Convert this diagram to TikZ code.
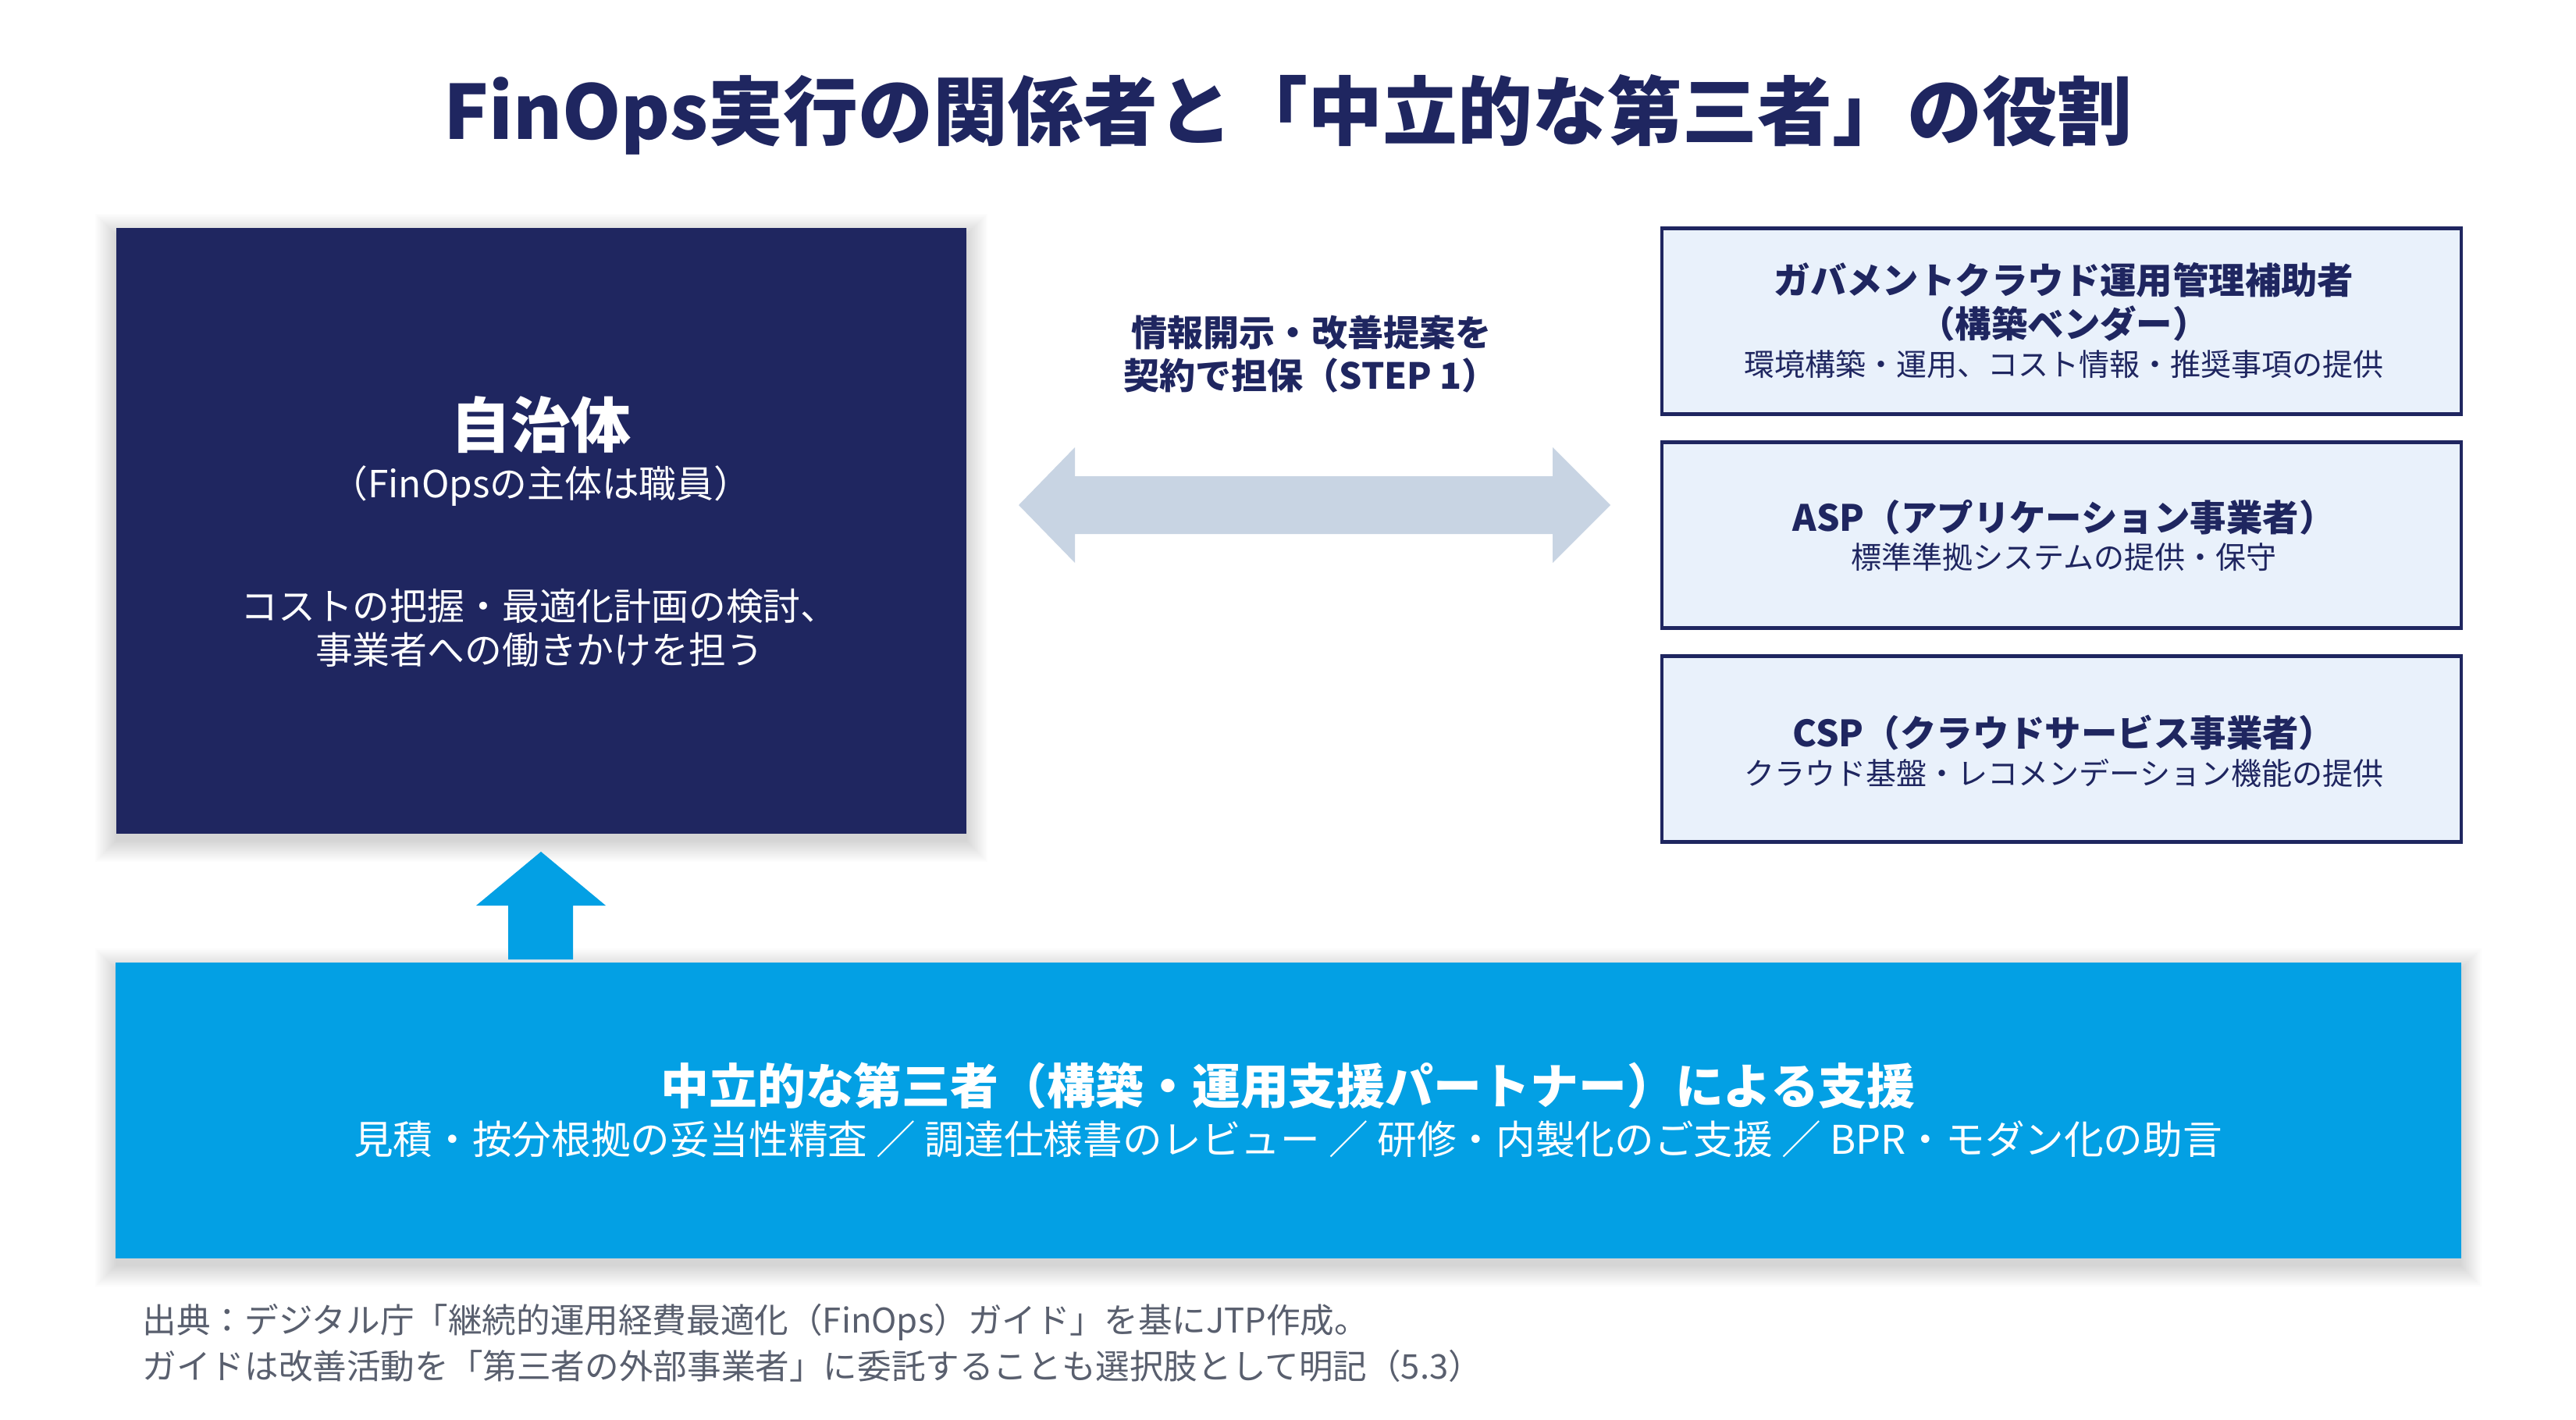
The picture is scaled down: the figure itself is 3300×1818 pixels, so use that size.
\documentclass[tikz,border=0pt]{standalone}
\usepackage{fontspec}
\setmainfont{Noto Sans CJK JP}
\definecolor{navy}{RGB}{31,38,96}
\definecolor{paleblue}{RGB}{233,241,251}
\definecolor{arrowgray}{RGB}{200,212,227}
\definecolor{brightblue}{RGB}{3,160,228}
\definecolor{notegray}{RGB}{89,95,110}
\newcommand\fsz[1]{\fontsize{#1pt}{#1pt}\selectfont}
% soft shadow: #1,#2 = top-left corner, #3,#4 = bottom-right corner (px units)
\newcommand\softshade[4]{%
  \foreach \e in {1,3,...,27}{%
    \fill[black, opacity=0.013] (#1-\e,#2-\e+9) rectangle (#3+\e,#4+\e+9);
  }%
}
\tikzset{
  lbl/.style={inner sep=0pt, anchor=center},
  govbox/.style={fill=navy, draw=none, inner sep=0pt, minimum width=10.89cm, minimum height=7.76cm},
  vendorbox/.style={fill=paleblue, draw=navy, line width=0.047cm, inner sep=0pt, minimum width=10.233cm, minimum height=2.383cm},
  supportbox/.style={fill=brightblue, draw=none, inner sep=0pt, minimum width=30.03cm, minimum height=3.79cm},
}
\begin{document}
\begin{tikzpicture}[x=0.01cm,y=-0.01cm]
\useasboundingbox[fill=white] (0,0) rectangle (3300,1818);

% title
\node[lbl, text=navy, font=\bfseries\fsz{27.3}] (title) at (1650,147) {FinOps実行の関係者と「中立的な第三者」の役割};

% shadows
\softshade{149}{292}{1238}{1068}
\softshade{149}{1233}{3152}{1612}

% left box
\node[govbox] (gov) at (693.5,680) {};
\node[lbl, text=white, font=\bfseries\fsz{21.9}] (govname) at (693,544) {自治体};
\node[lbl, text=white, font=\fsz{13.6}] (govsub) at (693,622) {（FinOpsの主体は職員）};
\node[lbl, text=white, font=\fsz{13.6}] (govd1) at (691,776) {コストの把握・最適化計画の検討、};
\node[lbl, text=white, font=\fsz{13.6}] (govd2) at (691,832) {事業者への働きかけを担う};

% middle label
\node[lbl, text=navy, font=\bfseries\fsz{13.1}] (mid1) at (1680,426) {情報開示・改善提案を};
\node[lbl, text=navy, font=\bfseries\fsz{13.1}] (mid2) at (1679,481) {契約で担保（STEP 1）};

% double arrow
\coordinate (dal) at (1305,647);
\coordinate (dar) at (2063,647);
\fill[arrowgray] (dal) -- (1377,573) -- (1377,610) -- (1989,610) -- (1989,573) -- (dar)
  -- (1989,721) -- (1989,684) -- (1377,684) -- (1377,721) -- cycle;

% right boxes
\node[vendorbox] (gcas) at (2641,411.5) {};
\node[lbl, text=navy, font=\bfseries\fsz{13.2}] (gcas1) at (2644,359) {ガバメントクラウド運用管理補助者};
\node[lbl, text=navy, font=\bfseries\fsz{13.2}] (gcas2) at (2644,415) {（構築ベンダー）};
\node[lbl, text=navy, font=\fsz{11.1}] (gcas3) at (2644,467) {環境構築・運用、コスト情報・推奨事項の提供};

\node[vendorbox] (asp) at (2641,685.5) {};
\node[lbl, text=navy, font=\bfseries\fsz{13.2}] (asp1) at (2644,663) {ASP（アプリケーション事業者）};
\node[lbl, text=navy, font=\fsz{11.1}] (asp2) at (2644,714) {標準準拠システムの提供・保守};

\node[vendorbox] (csp) at (2641,959.5) {};
\node[lbl, text=navy, font=\bfseries\fsz{13.2}] (csp1) at (2644,939) {CSP（クラウドサービス事業者）};
\node[lbl, text=navy, font=\fsz{11.1}] (csp2) at (2644,990) {クラウド基盤・レコメンデーション機能の提供};

% up arrow
\coordinate (uptip) at (693,1091);
\fill[brightblue] (uptip) -- (776,1160) -- (734,1160) -- (734,1229) -- (651,1229) -- (651,1160) -- (610,1160) -- cycle;

% bottom box
\node[supportbox] (sup) at (1650.5,1422.5) {};
\node[lbl, text=white, font=\bfseries\fsz{17.6}] (sup1) at (1650,1391) {中立的な第三者（構築・運用支援パートナー）による支援};
\node[lbl, text=white, font=\fsz{14.4}] (sup2) at (1650,1459) {見積・按分根拠の妥当性精査 ／ 調達仕様書のレビュー ／ 研修・内製化のご支援 ／ BPR・モダン化の助言};

% footnote
\node[lbl, anchor=west, text=notegray, font=\fsz{12.4}] (note1) at (182,1694) {出典：デジタル庁「継続的運用経費最適化（FinOps）ガイド」を基にJTP作成。};
\node[lbl, anchor=west, text=notegray, font=\fsz{12.4}] (note2) at (182,1750) {ガイドは改善活動を「第三者の外部事業者」に委託することも選択肢として明記（5.3）};
\end{tikzpicture}
\end{document}
